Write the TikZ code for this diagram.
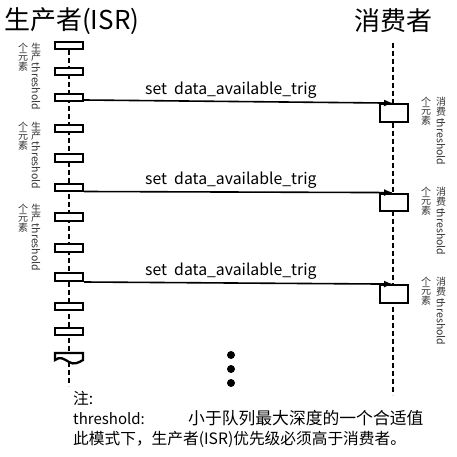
\documentclass[tikz,border=0pt]{standalone}
\usepackage{fontspec}
\setmainfont{Noto Sans CJK SC}
\usetikzlibrary{arrows.meta}
\tikzset{
  pbox/.style={draw, line width=2.3pt, fill=white, minimum width=28pt, minimum height=7.5pt, inner sep=0pt},
  cbox/.style={draw, line width=2.3pt, fill=white, minimum width=27.5pt, minimum height=17.5pt, inner sep=0pt},
  life/.style={line width=2.1pt, dash pattern=on 5pt off 3pt},
  msg/.style={line width=1.6pt, -{Latex[length=9pt,width=7pt]}},
  msglabel/.style={font=\fontsize{15.8}{17}\selectfont, anchor=base west, inner sep=0pt},
  vlab/.style={font=\fontsize{10}{9}\selectfont, anchor=north, inner sep=0pt, align=center, text=black!80},
  vthr/.style={font=\fontsize{10.5}{11}\selectfont, rotate=-90, anchor=west, inner sep=0pt, text=black!80},
  title/.style={font=\fontsize{26}{28}\selectfont, inner sep=0pt},
  note/.style={font=\fontsize{15.7}{20}\selectfont, anchor=north west, inner sep=0pt, align=left},
  dot/.style={circle, fill=black, minimum size=8pt, inner sep=0pt}
}
\begin{document}
\begin{tikzpicture}[x=1pt, y=-1pt]
\useasboundingbox[fill=white] (0,0) rectangle (457,457);
% titles
\node[title, anchor=west] (ptitle) at (4,21) {生产者(ISR)};
\node[title] (ctitle) at (393.5,21) {消费者};
% lifelines
\coordinate (ltop) at (69,50);
\coordinate (lbot) at (69,386);
\coordinate (rtop) at (393,43);
\coordinate (rbot) at (393,395);
\draw[life] (ltop) -- (lbot);
\draw[life] (rtop) -- (rbot);
% producer boxes
\foreach \i/\y in {1/45.5, 2/71.5, 3/97.5, 4/128.5, 5/158, 6/187.5, 7/217, 8/248, 9/277, 10/306.5, 11/331.5}
  \node[pbox] (p\i) at (69,\y) {};
% wavy box
\filldraw[line width=2.3pt, fill=white] (55,360) -- (55,353) -- (83,353) -- (83,360)
  .. controls (78,363) and (74,365) .. (69,362)
  .. controls (64,359) and (60,356) .. (55,360) -- cycle;
% consumer boxes
\node[cbox] (c1) at (394,113) {};
\node[cbox] (c2) at (394,202.5) {};
\node[cbox] (c3) at (394,294) {};
% messages
\draw[msg] ([yshift=-2.5pt]p3.east) -- ([xshift=-1pt]c1.north);
\draw[msg] ([yshift=-4pt]p6.east) -- ([xshift=-1pt]c2.north);
\draw[msg] ([yshift=-5pt]p9.east) -- ([xshift=-1pt]c3.north);
\node[msglabel] (m1) at (145,95) {set\ \ data\_available\_trig};
\node[msglabel] (m2) at (145,184) {set\ \ data\_available\_trig};
\node[msglabel] (m3) at (145,275) {set\ \ data\_available\_trig};
% producer vertical labels
\foreach \k/\y in {1/43, 2/122, 3/204} {
  \node[vlab] (pa\k) at (36,\y) {生\\产};
  \node[vthr] (pt\k) at ([yshift=-1pt]pa\k.south) {threshold};
  \node[vlab] (pb\k) at (23,\y) {个\\元\\素};
}
% consumer vertical labels
\foreach \k/\y in {1/97, 2/187, 3/277} {
  \node[vlab] (ca\k) at (441,\y) {消\\费};
  \node[vthr] (ct\k) at ([yshift=-1pt]ca\k.south) {threshold};
  \node[vlab] (cb\k) at (426,\y) {个\\元\\素};
}
% dots
\node[dot] (d1) at (231,355) {};
\node[dot] (d2) at (231,369) {};
\node[dot] (d3) at (231,383) {};
% notes
\node[note] (notes) at (73,391) {注:\\{\fontsize{15}{20}\selectfont\makebox[115pt][l]{threshold:}}{\fontsize{16.8}{20}\selectfont 小于队列最大深度的一个合适值}\\此模式下，生产者(ISR)优先级必须高于消费者。};
\end{tikzpicture}
\end{document}
